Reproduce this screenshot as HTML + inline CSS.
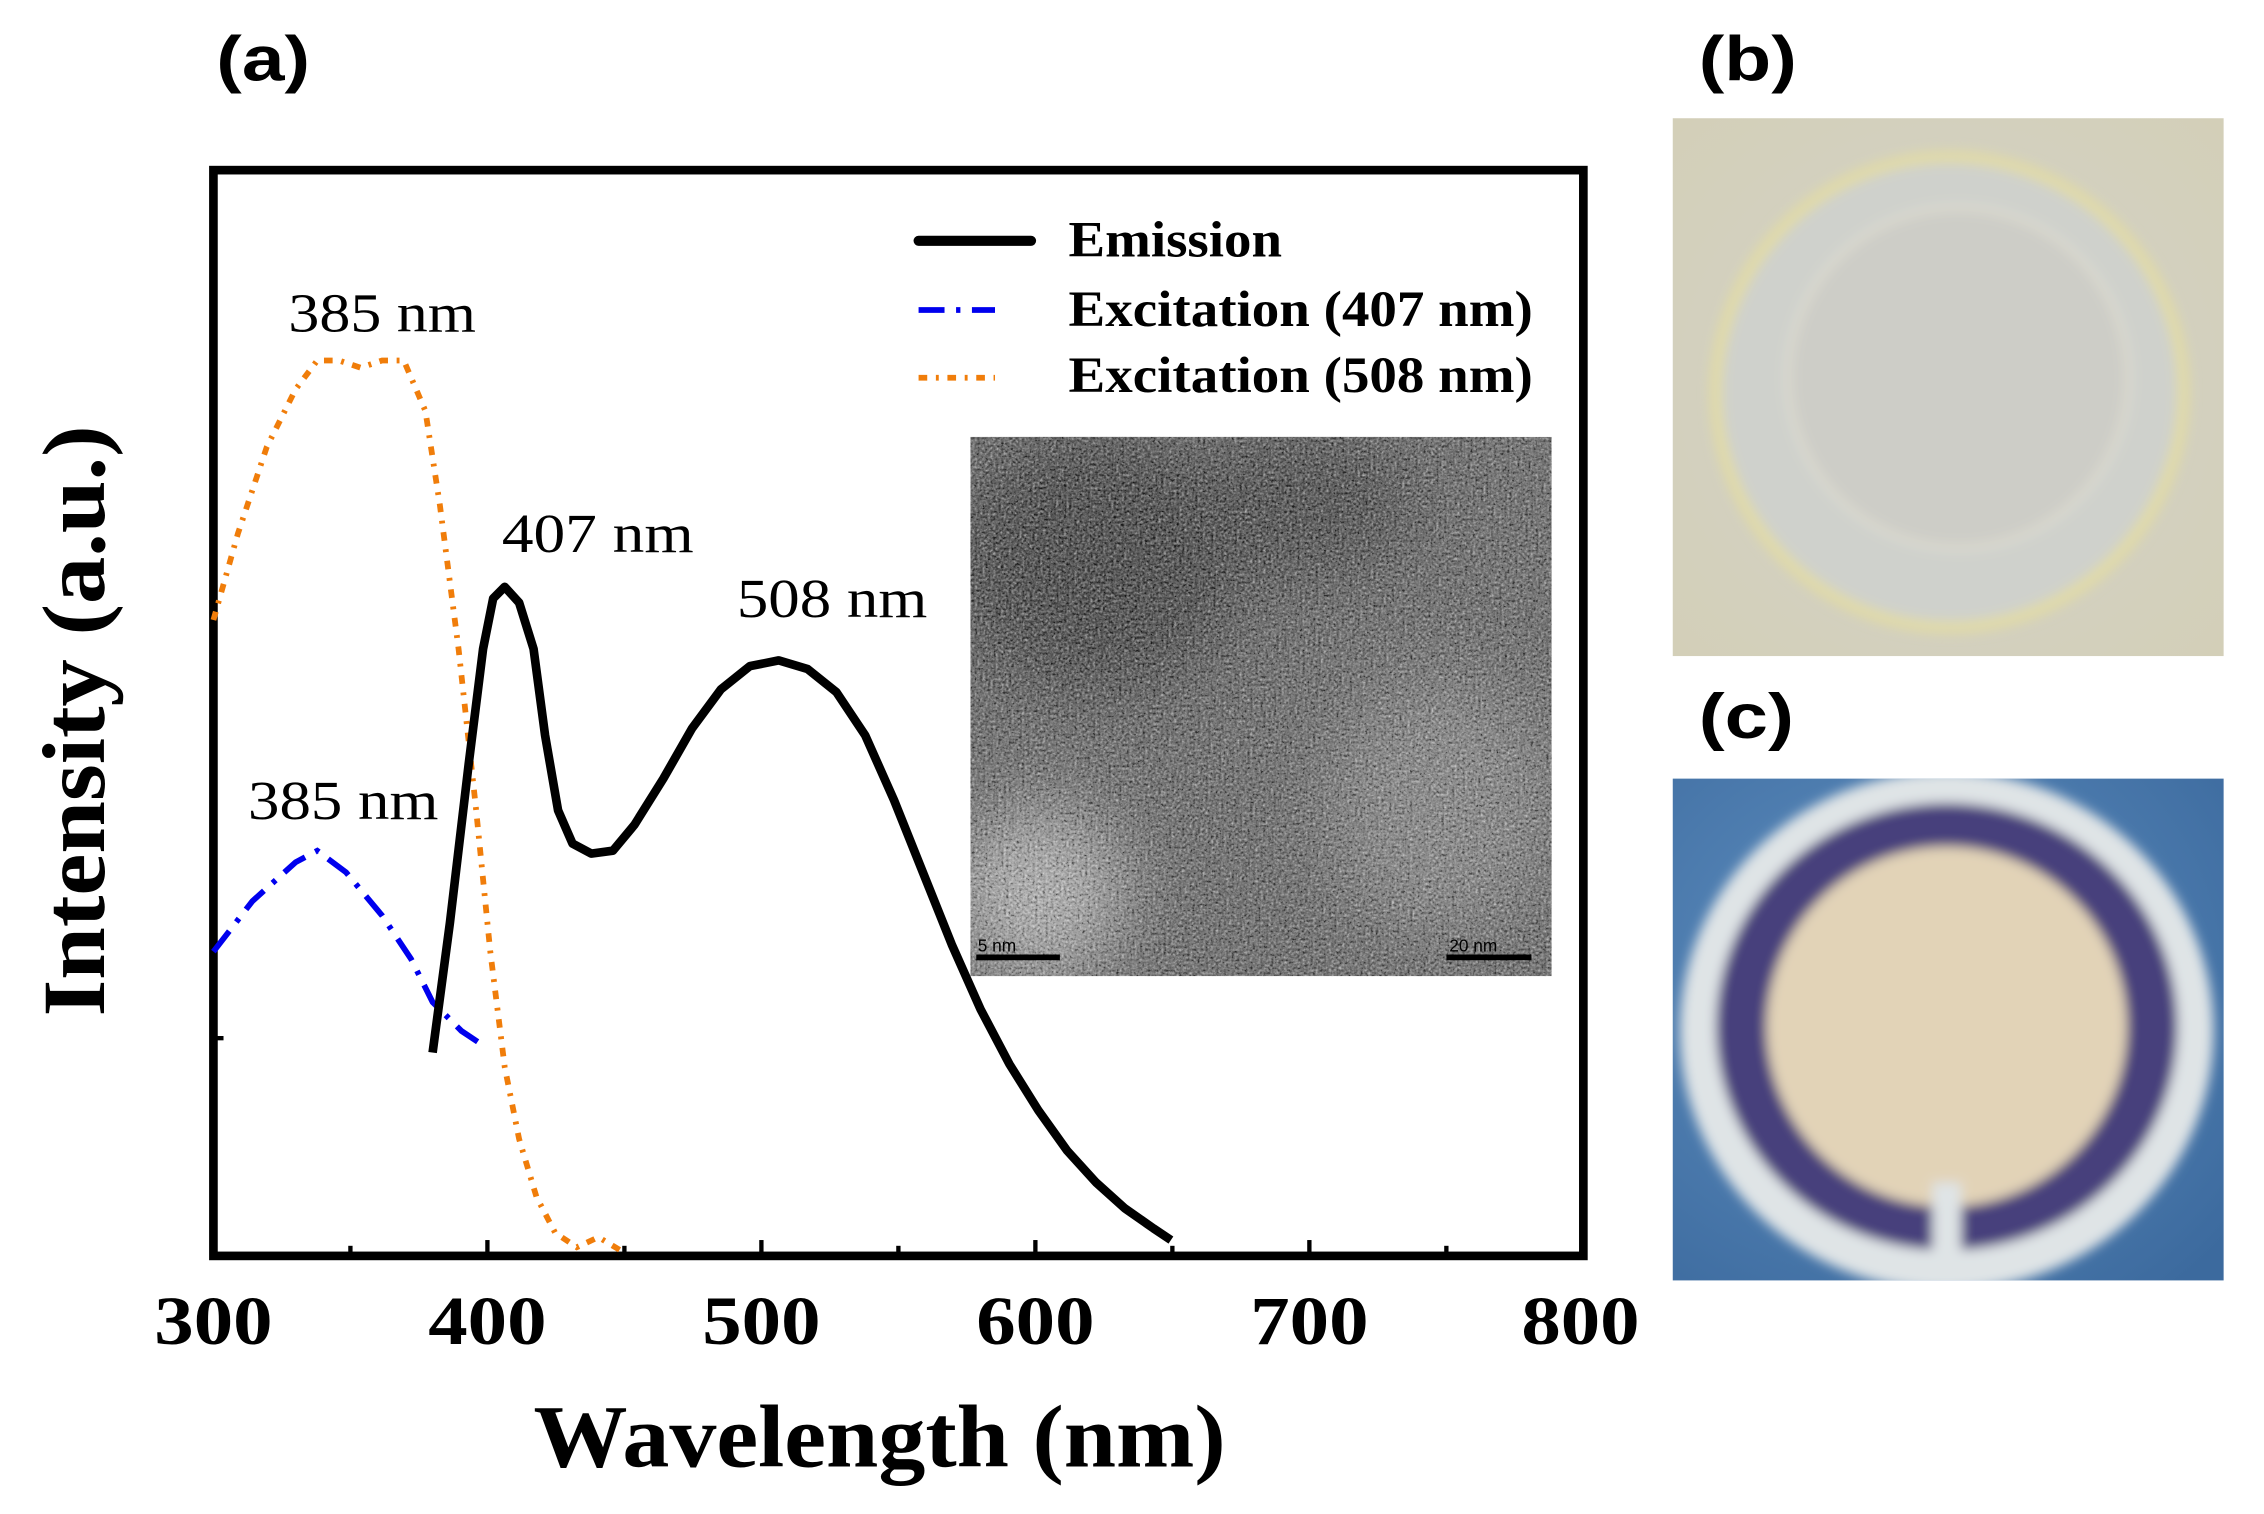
<!DOCTYPE html>
<html><head><meta charset="utf-8"><style>html,body{margin:0;padding:0;background:#fff}svg{display:block}</style></head>
<body>
<svg width="2264" height="1514" viewBox="0 0 1570 1050" preserveAspectRatio="none" xmlns="http://www.w3.org/2000/svg" font-family="Liberation Serif, serif">
<defs>
<filter id="noise" x="0" y="0" width="100%" height="100%">
<feTurbulence type="fractalNoise" baseFrequency="0.55" numOctaves="2" seed="3"/>
<feColorMatrix type="saturate" values="0"/>
<feComponentTransfer><feFuncR type="linear" slope="2.4" intercept="-0.75"/><feFuncG type="linear" slope="2.4" intercept="-0.75"/><feFuncB type="linear" slope="2.4" intercept="-0.75"/></feComponentTransfer>
</filter>
<filter id="blur"><feGaussianBlur stdDeviation="25"/></filter>
<filter id="blur2"><feGaussianBlur stdDeviation="4"/></filter>
<radialGradient id="bg" cx="0.5" cy="0.5" r="0.7"><stop offset="0" stop-color="#d3d3ca"/><stop offset="1" stop-color="#d3cfb8"/></radialGradient>
<radialGradient id="cg" cx="0.4" cy="0.4" r="0.8"><stop offset="0" stop-color="#5f8fc0"/><stop offset="1" stop-color="#3c6a9e"/></radialGradient>
<clipPath id="tem"><rect x="673" y="303" width="403" height="374"/></clipPath>
<clipPath id="pc"><rect x="1160" y="540" width="382" height="348"/></clipPath>
</defs>
<g font-family="Liberation Sans, sans-serif" font-weight="bold" font-size="44">
<text x="150" y="56" textLength="65" lengthAdjust="spacingAndGlyphs">(a)</text>
<text x="1178" y="56" textLength="68" lengthAdjust="spacingAndGlyphs">(b)</text>
<text x="1178" y="512" textLength="66" lengthAdjust="spacingAndGlyphs">(c)</text>
</g>
<!-- inset TEM -->
<g clip-path="url(#tem)">
<rect x="673" y="303" width="403" height="374" fill="#555"/>
<g filter="url(#blur)"><ellipse cx="760" cy="390" rx="100" ry="90" fill="#2a2a2a"/><ellipse cx="900" cy="350" rx="80" ry="50" fill="#333"/><ellipse cx="720" cy="620" rx="60" ry="60" fill="#aaa"/><ellipse cx="1000" cy="560" rx="80" ry="90" fill="#777"/></g>
<rect x="673" y="303" width="403" height="374" filter="url(#noise)" opacity="0.75"/>
</g>
<line x1="677" y1="664" x2="735" y2="664" stroke="#000" stroke-width="4"/>
<text x="678" y="660" font-family="Liberation Sans, sans-serif" font-size="12" fill="#000">5 nm</text>
<line x1="1003" y1="664" x2="1062" y2="664" stroke="#000" stroke-width="4"/>
<text x="1005" y="660" font-family="Liberation Sans, sans-serif" font-size="12" fill="#000">20 nm</text>
<!-- frame -->
<rect x="148" y="118" width="950" height="753" fill="none" stroke="#000" stroke-width="6"/>
<g stroke="#000" stroke-width="3">
<line x1="243" y1="871" x2="243" y2="864"/><line x1="338" y1="871" x2="338" y2="860"/><line x1="433" y1="871" x2="433" y2="864"/><line x1="528" y1="871" x2="528" y2="860"/><line x1="623" y1="871" x2="623" y2="864"/><line x1="718" y1="871" x2="718" y2="860"/><line x1="813" y1="871" x2="813" y2="864"/><line x1="908" y1="871" x2="908" y2="860"/><line x1="1003" y1="871" x2="1003" y2="864"/>
<line x1="148" y1="720" x2="155" y2="720"/>
</g>
<g font-weight="bold" font-size="48" text-anchor="middle">
<text x="148" y="932" textLength="82" lengthAdjust="spacingAndGlyphs">300</text><text x="338" y="932" textLength="82" lengthAdjust="spacingAndGlyphs">400</text><text x="528" y="932" textLength="82" lengthAdjust="spacingAndGlyphs">500</text><text x="718" y="932" textLength="82" lengthAdjust="spacingAndGlyphs">600</text><text x="908" y="932" textLength="82" lengthAdjust="spacingAndGlyphs">700</text><text x="1096" y="932" textLength="82" lengthAdjust="spacingAndGlyphs">800</text>
</g>
<text x="370" y="1017" font-weight="bold" font-size="62" textLength="480" lengthAdjust="spacingAndGlyphs">Wavelength (nm)</text>
<text transform="translate(72,705) rotate(-90)" font-weight="bold" font-size="62" textLength="410" lengthAdjust="spacingAndGlyphs">Intensity (a.u.)</text>
<!-- curves -->
<polyline fill="none" stroke="#f07d0a" stroke-width="4" stroke-dasharray="6,6,2,6" points="148,430 165,370 185,310 205,270 220,250 235,250 250,255 265,250 280,250 295,285 305,350 318,450 330,560 340,660 350,740 360,790 372,830 385,855 400,865 415,858 430,867"/>
<polyline fill="none" stroke="#0000ee" stroke-width="4" stroke-dasharray="18,8,3,8" points="148,660 175,625 205,598 220,590 240,605 265,635 285,665 300,695 320,715 335,725"/>
<polyline fill="none" stroke="#000" stroke-width="6" stroke-linejoin="round" points="300,730 312,640 325,530 335,450 342,415 350,407 360,418 370,450 378,510 387,562 397,585 410,592 425,590 440,572 460,540 480,505 500,478 520,462 540,458 560,464 580,480 600,510 620,555 640,605 660,655 680,700 700,738 720,770 740,798 760,820 780,838 800,852 812,860"/>
<!-- peak labels -->
<g font-size="38">
<text x="200" y="230" textLength="130" lengthAdjust="spacingAndGlyphs">385 nm</text><text x="348" y="383" textLength="133" lengthAdjust="spacingAndGlyphs">407 nm</text><text x="511" y="428" textLength="132" lengthAdjust="spacingAndGlyphs">508 nm</text><text x="172" y="568" textLength="132" lengthAdjust="spacingAndGlyphs">385 nm</text>
</g>
<!-- legend -->
<line x1="637" y1="167" x2="715" y2="167" stroke="#000" stroke-width="7" stroke-linecap="round"/>
<line x1="637" y1="215" x2="690" y2="215" stroke="#0000ee" stroke-width="4" stroke-dasharray="18,8,3,8"/>
<line x1="637" y1="262" x2="690" y2="262" stroke="#f07d0a" stroke-width="4" stroke-dasharray="6,6,2,6"/>
<g font-weight="bold" font-size="35">
<text x="741" y="178" textLength="148" lengthAdjust="spacingAndGlyphs">Emission</text><text x="741" y="226" textLength="322" lengthAdjust="spacingAndGlyphs">Excitation (407 nm)</text><text x="741" y="272" textLength="322" lengthAdjust="spacingAndGlyphs">Excitation (508 nm)</text>
</g>
<!-- panel b -->
<rect x="1160" y="82" width="382" height="373" fill="url(#bg)"/>
<g filter="url(#blur2)">
<ellipse cx="1352" cy="272" rx="162" ry="163" fill="#cfd1cc" stroke="#e2dba5" stroke-width="8"/>
<ellipse cx="1358" cy="262" rx="118" ry="118" fill="#cdcdc7" stroke="#dedcd0" stroke-width="4"/>
</g>
<!-- panel c -->
<rect x="1160" y="540" width="382" height="348" fill="url(#cg)"/>
<g clip-path="url(#pc)"><g filter="url(#blur2)">
<ellipse cx="1350" cy="715" rx="185" ry="180" fill="#dfe4e6"/>
<ellipse cx="1350" cy="712" rx="160" ry="155" fill="#46407c"/>
<ellipse cx="1350" cy="712" rx="125" ry="125" fill="#e2d3b7"/>
<rect x="1340" y="820" width="20" height="60" fill="#dfe4e6"/>
</g></g>
</svg>
</body></html>
